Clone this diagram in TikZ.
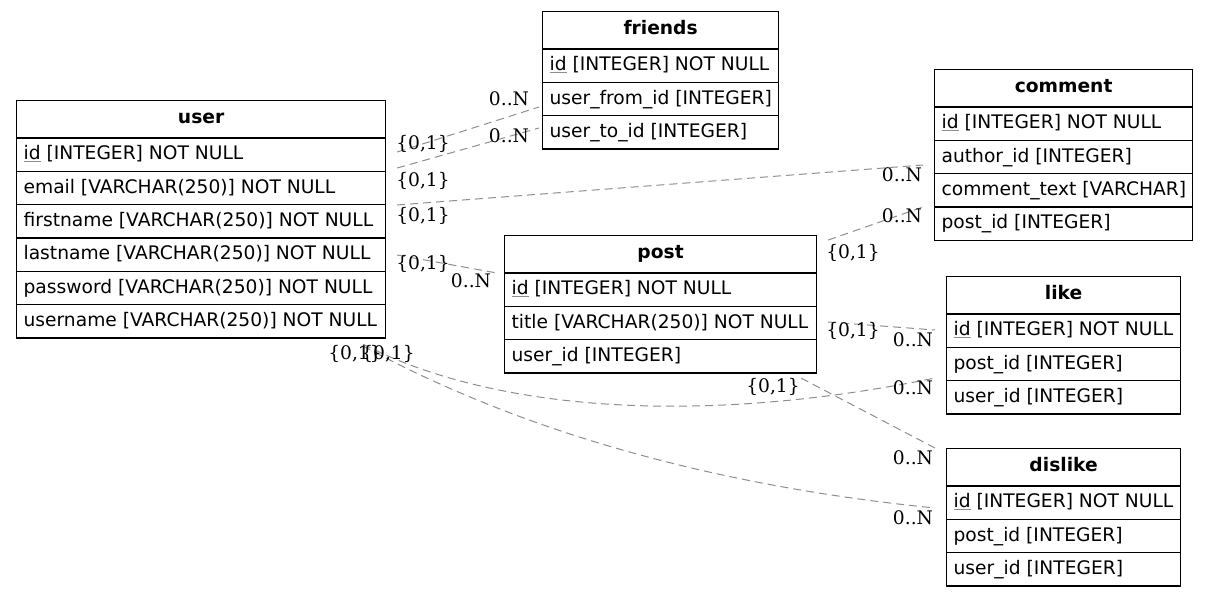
\documentclass[tikz,border=0pt]{standalone}
\usepackage{fontspec}
\setmainfont{DejaVu Sans}
\newfontfamily\cardfont{DejaVu Serif}
\usetikzlibrary{shapes}
\definecolor{relgray}{HTML}{8E8E8E}
\newlength{\colw}
\newcommand{\rowstrut}{\rule[-8.35pt]{0pt}{24.1pt}}
\newcommand{\headstrut}{\rule[-10.45pt]{0pt}{27.2pt}}
\newcommand{\pk}[1]{\setbox0\hbox{#1}\rlap{\color{relgray}\rule[-1.6pt]{\wd0}{0.6pt}}#1}
\newcommand{\head}[1]{\headstrut\makebox[\colw]{\bfseries #1}}
\newcommand{\field}[1]{\rowstrut\makebox[\colw][l]{#1}}

\begin{document}
\begin{tikzpicture}[x=0.75pt, y=-0.75pt,
 entity/.style={draw, line width=0.9pt, rectangle split, anchor=north west, inner xsep=5.25pt, inner ysep=0pt, font=\fontsize{14}{16}\selectfont},
 rel/.style={draw=relgray, line width=0.75pt, dash pattern=on 6pt off 3.75pt},
 card/.style={anchor=base, inner sep=0pt, font=\cardfont\fontsize{14}{16}\selectfont}]
\useasboundingbox (0,0) rectangle (1208,596);

 \setlength{\colw}{266.25pt}
 \node[entity, rectangle split parts=7] (user) at (16,100) {\head{user}
  \nodepart{two}\field{\pk{id} [INTEGER] NOT NULL}
  \nodepart{three}\field{email [VARCHAR(250)] NOT NULL}
  \nodepart{four}\field{firstname [VARCHAR(250)] NOT NULL}
  \nodepart{five}\field{lastname [VARCHAR(250)] NOT NULL}
  \nodepart{six}\field{password [VARCHAR(250)] NOT NULL}
  \nodepart{seven}\field{username [VARCHAR(250)] NOT NULL}};
 \setlength{\colw}{166.5pt}
 \node[entity, rectangle split parts=4] (friends) at (542,11) {\head{friends}
  \nodepart{two}\field{\pk{id} [INTEGER] NOT NULL}
  \nodepart{three}\field{user\_from\_id [INTEGER]}
  \nodepart{four}\field{user\_to\_id [INTEGER]}};
 \setlength{\colw}{183pt}
 \node[entity, rectangle split parts=5] (comment) at (934,69) {\head{comment}
  \nodepart{two}\field{\pk{id} [INTEGER] NOT NULL}
  \nodepart{three}\field{author\_id [INTEGER]}
  \nodepart{four}\field{comment\_text [VARCHAR]}
  \nodepart{five}\field{post\_id [INTEGER]}};
 \setlength{\colw}{223.5pt}
 \node[entity, rectangle split parts=4] (post) at (504,235) {\head{post}
  \nodepart{two}\field{\pk{id} [INTEGER] NOT NULL}
  \nodepart{three}\field{title [VARCHAR(250)] NOT NULL}
  \nodepart{four}\field{user\_id [INTEGER]}};
 \setlength{\colw}{165pt}
 \node[entity, rectangle split parts=4] (like) at (946,276) {\head{like}
  \nodepart{two}\field{\pk{id} [INTEGER] NOT NULL}
  \nodepart{three}\field{post\_id [INTEGER]}
  \nodepart{four}\field{user\_id [INTEGER]}};
 \node[entity, rectangle split parts=4] (dislike) at (946,448) {\head{dislike}
  \nodepart{two}\field{\pk{id} [INTEGER] NOT NULL}
  \nodepart{three}\field{post\_id [INTEGER]}
  \nodepart{four}\field{user\_id [INTEGER]}};

 % relations
 \draw[rel] ([shift={(11,52)}]user.north east) -- ([shift={(-3,96)}]friends.north west);
 \draw[rel] ([shift={(11,68)}]user.north east) -- ([shift={(-3,117)}]friends.north west);
 \draw[rel] ([shift={(11,105)}]user.north east) -- ([shift={(-11,96)}]comment.north west);
 \draw[rel] ([shift={(11,5)}]post.north east) -- ([shift={(-11,138)}]comment.north west);
 \draw[rel] ([shift={(11,155)}]user.north east) -- ([shift={(-7,38)}]post.north west);
 \draw[rel] ([shift={(11,87)}]post.north east) -- ([shift={(-11,54)}]like.north west);
 \draw[rel] ([shift={(-23,5.5)}]user.south east) .. controls (480,405) and (680,430) .. ([shift={(-11,102)}]like.north west);
 \draw[rel] ([shift={(-23,7.5)}]user.south east) .. controls (500,420) and (685,483) .. ([shift={(-11,60)}]dislike.north west);
 \draw[rel] ([shift={(-16,4.5)}]post.south east) -- ([shift={(-11,0)}]dislike.north west);

 \foreach \x/\y/\t [count=\i] in {509/105/0..N, 509/142/0..N, 423/149/{\{0,1\}}, 423/186/{\{0,1\}},
   423/221/{\{0,1\}}, 423/269/{\{0,1\}}, 471/287/0..N, 902/181/0..N, 902/222/0..N, 853/258/{\{0,1\}},
   853/336/{\{0,1\}}, 913/346/0..N, 913/394/0..N, 773/392/{\{0,1\}}, 355/359/{\{0,1\}}, 388/359/{\{0,1\}},
   913/464/0..N, 913/524/0..N}
  \node[card] (card\i) at (\x,\y) {\t};
\end{tikzpicture}
\end{document}
